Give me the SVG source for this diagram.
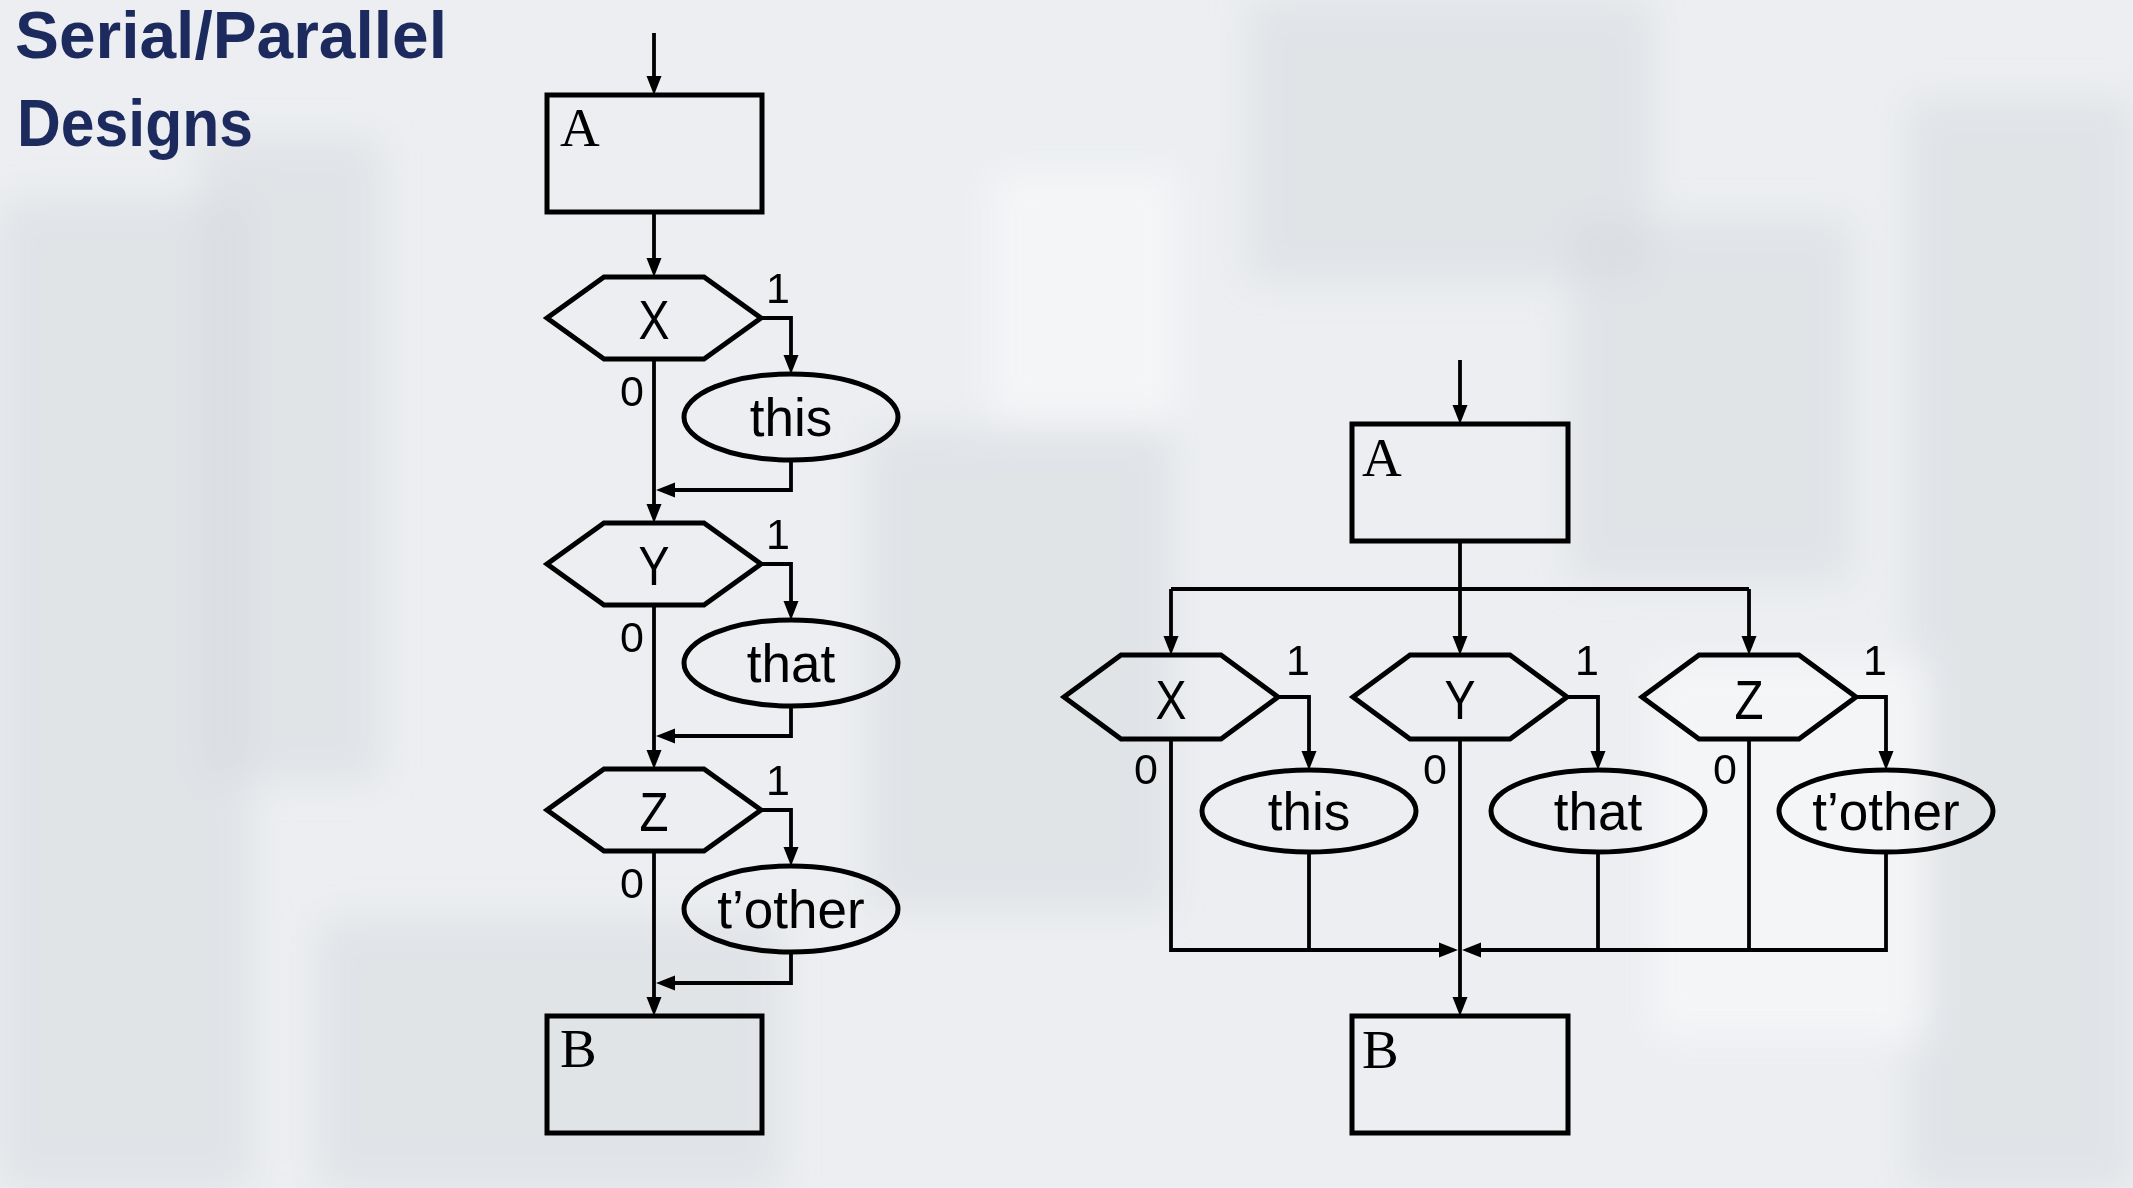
<svg xmlns="http://www.w3.org/2000/svg" width="2133" height="1188" viewBox="0 0 2133 1188">
<defs>
<style>
.bg{fill:#eceef1}
.ph{fill:#d6d9de;opacity:0.5}
.pl{fill:#f7f8f9;opacity:0.7}
.title{font-family:"Liberation Sans",Arial,sans-serif;font-weight:bold;font-size:66px;fill:#1c2a5e}
.box{fill:none;stroke:#000;stroke-width:5}
.dec{fill:none;stroke:#000;stroke-width:5;stroke-linejoin:miter}
.ell{fill:none;stroke:#000;stroke-width:5}
.serif{font-family:"Liberation Serif","Times New Roman",serif;font-size:55px;fill:#000}
.hexl{font-family:"Liberation Sans",Arial,sans-serif;font-size:56px;fill:#000;text-anchor:middle}
.act{font-family:"Liberation Sans",Arial,sans-serif;font-size:53px;fill:#000;text-anchor:middle}
.dig{font-family:"Liberation Sans",Arial,sans-serif;font-size:43px;fill:#000}
.c{fill:none;stroke:#000;stroke-width:3.8}
.ca{fill:none;stroke:#000;stroke-width:3.8;marker-end:url(#ah)}
</style>
<filter id="soft" x="-10%" y="-10%" width="120%" height="120%">
<feGaussianBlur stdDeviation="18"/>
</filter>
<marker id="ah" markerUnits="userSpaceOnUse" markerWidth="20" markerHeight="18" viewBox="0 0 20 18" refX="12" refY="9" orient="auto">
<path d="M0,1.5 L19,9 L0,16.5 z" fill="#000"/>
</marker>
</defs>

<g id="background">
<rect class="bg" x="0" y="0" width="2133" height="1188"/>
<g filter="url(#soft)">
<rect class="ph" x="0" y="200" width="250" height="988"/>
<rect class="ph" x="200" y="140" width="180" height="640"/>
<rect class="pl" x="990" y="170" width="190" height="250"/>
<rect class="ph" x="870" y="430" width="300" height="480"/>
<rect class="ph" x="1250" y="0" width="400" height="280"/>
<rect class="ph" x="1570" y="220" width="280" height="360"/>
<rect class="ph" x="1910" y="100" width="223" height="1088"/>
<rect class="pl" x="1650" y="660" width="280" height="380"/>
<rect class="ph" x="320" y="920" width="460" height="268"/>
</g>
</g>

<g id="title">
<text class="title" x="15" y="58" textLength="432" lengthAdjust="spacingAndGlyphs">Serial/Parallel</text>
<text class="title" x="17" y="146" textLength="236" lengthAdjust="spacingAndGlyphs">Designs</text>
</g>

<g id="connectors">
<!-- left serial design -->
<line class="ca" x1="654" y1="33" x2="654" y2="88"/>
<line class="ca" x1="654" y1="212" x2="654" y2="270"/>
<polyline class="ca" points="761,318 791,318 791,367"/>
<polyline class="ca" points="791,460 791,490 663,490"/>
<line class="ca" x1="654" y1="359" x2="654" y2="516"/>
<polyline class="ca" points="761,564 791,564 791,613"/>
<polyline class="ca" points="791,706 791,736 663,736"/>
<line class="ca" x1="654" y1="605" x2="654" y2="762"/>
<polyline class="ca" points="761,810 791,810 791,859"/>
<polyline class="ca" points="791,952 791,983 663,983"/>
<line class="ca" x1="654" y1="851" x2="654" y2="1009"/>
<!-- right parallel design -->
<line class="ca" x1="1460" y1="360" x2="1460" y2="417"/>
<line class="ca" x1="1460" y1="541" x2="1460" y2="648"/>
<polyline class="c" points="1171,589 1749,589"/>
<line class="ca" x1="1171" y1="589" x2="1171" y2="648"/>
<line class="ca" x1="1749" y1="589" x2="1749" y2="648"/>
<polyline class="ca" points="1278,697 1309,697 1309,763"/>
<polyline class="ca" points="1567,697 1598,697 1598,763"/>
<polyline class="ca" points="1856,697 1886,697 1886,763"/>
<polyline class="ca" points="1171,739 1171,950 1451,950"/>
<line class="c" x1="1309" y1="852" x2="1309" y2="950"/>
<polyline class="ca" points="1886,852 1886,950 1469,950"/>
<line class="c" x1="1598" y1="852" x2="1598" y2="950"/>
<line class="c" x1="1749" y1="739" x2="1749" y2="950"/>
<line class="ca" x1="1460" y1="739" x2="1460" y2="1009"/>
</g>

<g id="labels">
<text class="dig" x="766" y="303">1</text>
<text class="dig" x="644" y="406" text-anchor="end">0</text>
<text class="dig" x="766" y="549">1</text>
<text class="dig" x="644" y="652" text-anchor="end">0</text>
<text class="dig" x="766" y="795">1</text>
<text class="dig" x="644" y="898" text-anchor="end">0</text>
<text class="dig" x="1286" y="675">1</text>
<text class="dig" x="1158" y="784" text-anchor="end">0</text>
<text class="dig" x="1575" y="675">1</text>
<text class="dig" x="1447" y="784" text-anchor="end">0</text>
<text class="dig" x="1863" y="675">1</text>
<text class="dig" x="1737" y="784" text-anchor="end">0</text>
</g>

<g id="L-A">
<rect class="box" x="547" y="95" width="215" height="117"/>
<text class="serif" x="560" y="146">A</text>
</g>
<g id="L-X">
<polygon class="dec" points="604,277 704,277 761,318 704,359 604,359 547,318"/>
<text class="hexl" x="654" y="339" textLength="31" lengthAdjust="spacingAndGlyphs">X</text>
</g>
<g id="L-this">
<ellipse class="ell" cx="791" cy="417" rx="107" ry="43"/>
<text class="act" x="791" y="436">this</text>
</g>
<g id="L-Y">
<polygon class="dec" points="604,523 704,523 761,564 704,605 604,605 547,564"/>
<text class="hexl" x="654" y="585" textLength="31" lengthAdjust="spacingAndGlyphs">Y</text>
</g>
<g id="L-that">
<ellipse class="ell" cx="791" cy="663" rx="107" ry="43"/>
<text class="act" x="791" y="682">that</text>
</g>
<g id="L-Z">
<polygon class="dec" points="604,769 704,769 761,810 704,851 604,851 547,810"/>
<text class="hexl" x="654" y="831" textLength="29" lengthAdjust="spacingAndGlyphs">Z</text>
</g>
<g id="L-tother">
<ellipse class="ell" cx="791" cy="909" rx="107" ry="43"/>
<text class="act" x="791" y="928">t’other</text>
</g>
<g id="L-B">
<rect class="box" x="547" y="1016" width="215" height="117"/>
<text class="serif" x="560" y="1067">B</text>
</g>

<g id="R-A">
<rect class="box" x="1352" y="424" width="216" height="117"/>
<text class="serif" x="1362" y="476">A</text>
</g>
<g id="R-X">
<polygon class="dec" points="1121,655 1221,655 1278,697 1221,739 1121,739 1064,697"/>
<text class="hexl" x="1171" y="719" textLength="31" lengthAdjust="spacingAndGlyphs">X</text>
</g>
<g id="R-Y">
<polygon class="dec" points="1410,655 1510,655 1567,697 1510,739 1410,739 1353,697"/>
<text class="hexl" x="1460" y="719" textLength="31" lengthAdjust="spacingAndGlyphs">Y</text>
</g>
<g id="R-Z">
<polygon class="dec" points="1699,655 1799,655 1856,697 1799,739 1699,739 1642,697"/>
<text class="hexl" x="1749" y="719" textLength="29" lengthAdjust="spacingAndGlyphs">Z</text>
</g>
<g id="R-this">
<ellipse class="ell" cx="1309" cy="811" rx="107" ry="41"/>
<text class="act" x="1309" y="830">this</text>
</g>
<g id="R-that">
<ellipse class="ell" cx="1598" cy="811" rx="107" ry="41"/>
<text class="act" x="1598" y="830">that</text>
</g>
<g id="R-tother">
<ellipse class="ell" cx="1886" cy="811" rx="107" ry="41"/>
<text class="act" x="1886" y="830">t’other</text>
</g>
<g id="R-B">
<rect class="box" x="1352" y="1016" width="216" height="117"/>
<text class="serif" x="1362" y="1068">B</text>
</g>
</svg>
